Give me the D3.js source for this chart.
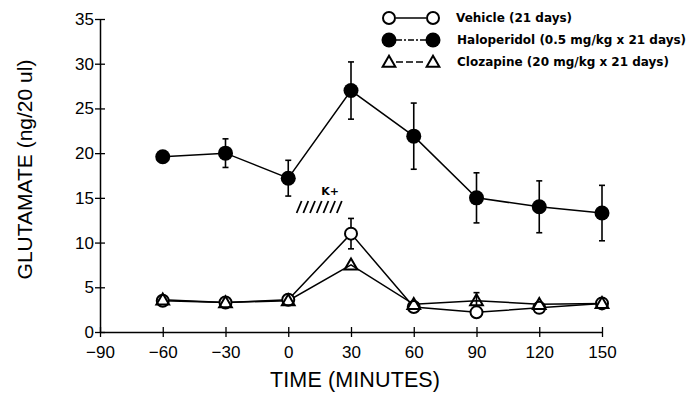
<!DOCTYPE html>
<html>
<head>
<meta charset="utf-8">
<script src="https://cdn.jsdelivr.net/npm/d3@7"></script>
<style>
  html, body { margin: 0; padding: 0; background: #fff; }
  svg { display: block; font-family: "Liberation Sans", Arial, sans-serif; }
</style>
</head>
<body>
<div id="chart"></div>
<script>
// time points (minutes)
const times = [-60, -30, 0, 30, 60, 90, 120, 150];
const xTicks = [-90, -60, -30, 0, 30, 60, 90, 120, 150];
const yTicks = [0, 5, 10, 15, 20, 25, 30, 35];

// glutamate (ng/20 ul), means and SEM (null = no visible bar)
const haloMean = [19.6, 20.0, 17.2, 27.0, 21.9, 15.0, 14.0, 13.3];
const haloErr  = [null, 1.6, 2.0, 3.2, 3.7, 2.8, 2.9, 3.1];
const vehMean  = [3.5, 3.3, 3.6, 11.0, 2.8, 2.2, 2.7, 3.2];
const vehErr   = [null, null, null, 1.7, null, null, null, null];
const cloMean  = [3.6, 3.3, 3.5, 7.5, 3.1, 3.5, 3.1, 3.2];
const cloErr   = [null, null, null, null, null, 0.9, null, null];

const legendLabels = [
  'Vehicle (21 days)',
  'Haloperidol (0.5 mg/kg x 21 days)',
  'Clozapine (20 mg/kg x 21 days)'
];

const width = 689, height = 394;
const margin = { top: 19, right: 87, bottom: 62, left: 100 };

const x = d3.scaleLinear().domain([-90, 150]).range([margin.left, width - margin.right]);
const y = d3.scaleLinear().domain([0, 35]).range([height - margin.bottom, margin.top]);

const svg = d3.select('#chart').append('svg')
  .attr('width', width)
  .attr('height', height);

// X axis
svg.append('g')
  .attr('transform', `translate(0,${y(0)})`)
  .call(d3.axisBottom(x).tickValues(xTicks).tickSize(5).tickSizeOuter(0)
    .tickFormat(d => d < 0 ? '\u2212' + Math.abs(d) : d))
  .call(g => g.select('.domain').attr('stroke', '#000').attr('stroke-width', 1.5))
  .call(g => g.selectAll('.tick line').attr('stroke', '#000').attr('stroke-width', 1.3).attr('y1', -5).attr('y2', 5))
  .call(g => g.selectAll('.tick text').attr('fill', '#000').attr('font-size', 17).attr('dy', '1.05em'));

// Y axis
svg.append('g')
  .attr('transform', `translate(${x(-90)},0)`)
  .call(d3.axisLeft(y).tickValues(yTicks).tickSize(5).tickSizeOuter(0))
  .call(g => g.select('.domain').attr('stroke', '#000').attr('stroke-width', 1.5))
  .call(g => g.selectAll('.tick line').attr('stroke', '#000').attr('stroke-width', 1.3).attr('x1', -5).attr('x2', 5))
  .call(g => g.selectAll('.tick text').attr('fill', '#000').attr('font-size', 17).attr('x', -6));

// Axis titles
svg.append('text')
  .attr('x', 355)
  .attr('y', 387)
  .attr('text-anchor', 'middle')
  .attr('font-size', 21.5)
  .attr('textLength', 170)
  .text('TIME (MINUTES)');

svg.append('text')
  .attr('transform', `translate(32,${(y(0) + y(35)) / 2 - 6}) rotate(-90)`)
  .attr('text-anchor', 'middle')
  .attr('font-size', 21)
  .text('GLUTAMATE (ng/20 ul)');

// K+ annotation
svg.append('text')
  .attr('x', x(20))
  .attr('y', 195)
  .attr('text-anchor', 'middle')
  .attr('font-size', 11)
  .attr('font-family', '"DejaVu Sans", sans-serif')
  .attr('font-weight', 'bold')
  .text('K+');

const hatch = d3.range(7);
svg.append('g').selectAll('line')
  .data(hatch)
  .join('line')
  .attr('x1', i => x(4) + i * 6.7)
  .attr('x2', i => x(4) + i * 6.7 + 5)
  .attr('y1', 213)
  .attr('y2', 201)
  .attr('stroke', '#000')
  .attr('stroke-width', 1.8);

const series = [
  { mean: vehMean, err: vehErr, marker: 'open' },
  { mean: cloMean, err: cloErr, marker: 'tri' },
  { mean: haloMean, err: haloErr, marker: 'filled' }
];

const line = d3.line().x((d, i) => x(times[i])).y(d => y(d));

// lines
series.forEach(s => {
  svg.append('path')
    .attr('d', line(s.mean))
    .attr('fill', 'none')
    .attr('stroke', '#000')
    .attr('stroke-width', 1.5);
});

// error bars
series.forEach(s => {
  const g = svg.append('g').attr('stroke', '#000').attr('stroke-width', 1.6);
  s.mean.forEach((m, i) => {
    const e = s.err[i];
    if (e == null) return;
    const cx = x(times[i]);
    g.append('line').attr('x1', cx).attr('x2', cx).attr('y1', y(m - e)).attr('y2', y(m + e));
    g.append('line').attr('x1', cx - 3).attr('x2', cx + 3).attr('y1', y(m - e)).attr('y2', y(m - e));
    g.append('line').attr('x1', cx - 3).attr('x2', cx + 3).attr('y1', y(m + e)).attr('y2', y(m + e));
  });
});

function drawMarker(g, type, cx, cy) {
  if (type === 'filled') {
    g.append('circle').attr('cx', cx).attr('cy', cy).attr('r', 7.5).attr('fill', '#000');
  } else if (type === 'open') {
    g.append('circle').attr('cx', cx).attr('cy', cy).attr('r', 6)
      .attr('fill', '#fff').attr('stroke', '#000').attr('stroke-width', 2);
  } else {
    const tri = d3.symbol().type(d3.symbolTriangle).size(70);
    g.append('path').attr('d', tri()).attr('transform', `translate(${cx},${cy + 1})`)
      .attr('fill', 'none').attr('stroke', '#000').attr('stroke-width', 2);
  }
}

// markers
series.forEach(s => {
  const g = svg.append('g');
  s.mean.forEach((m, i) => drawMarker(g, s.marker, x(times[i]), y(m)));
});

// legend
const legendTypes = ['open', 'filled', 'tri'];
const legendDash = [null, '6,2,2,2', '7,3'];
const legendY = [18, 40, 62];
const lg = svg.append('g');
legendLabels.forEach((lab, i) => {
  const ly = legendY[i];
  lg.append('line')
    .attr('x1', 396).attr('x2', 426).attr('y1', ly).attr('y2', ly)
    .attr('stroke', '#000').attr('stroke-width', 1.5)
    .attr('stroke-dasharray', legendDash[i]);
  drawMarker(lg, legendTypes[i], 389, ly);
  drawMarker(lg, legendTypes[i], 433, ly);
  lg.append('text')
    .attr('x', i === 0 ? 456 : 457)
    .attr('y', ly + 4)
    .attr('font-size', 12)
    .attr('font-family', '"DejaVu Sans", sans-serif')
    .attr('font-weight', 'bold')
    .text(lab);
});
</script>
</body>
</html>
